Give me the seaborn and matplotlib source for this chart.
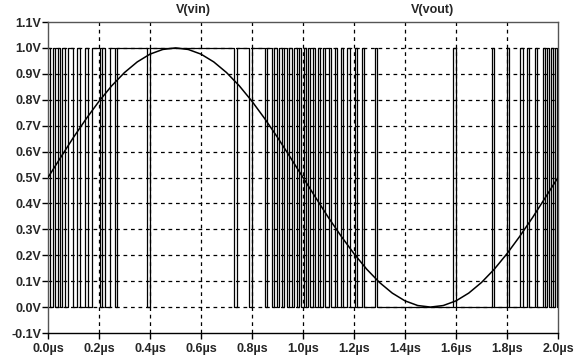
import numpy as np
import pandas as pd
import matplotlib
matplotlib.use("Agg")
import matplotlib.pyplot as plt
import seaborn as sns

vin_t = [round(0.05 * i, 2) for i in range(41)]
vin_v = [0.500, 0.578, 0.655, 0.727, 0.794, 0.854, 0.905, 0.946, 0.976, 0.994,
         1.000, 0.994, 0.976, 0.946, 0.905, 0.854, 0.794, 0.727, 0.655, 0.578,
         0.500, 0.422, 0.345, 0.273, 0.206, 0.146, 0.095, 0.054, 0.024, 0.006,
         0.000, 0.006, 0.024, 0.054, 0.095, 0.146, 0.206, 0.273, 0.345, 0.422,
         0.500]

# V(vout): transition times (us); level starts high at t=0 and toggles at each
vout_edges = [0.008, 0.020, 0.027, 0.039, 0.047, 0.055, 0.067, 0.078, 0.098, 0.114,
              0.125, 0.145, 0.157, 0.173, 0.204, 0.212, 0.224, 0.243, 0.263, 0.271,
              0.388, 0.400, 0.729, 0.741, 0.788, 0.800, 0.851, 0.859, 0.878, 0.886,
              0.898, 0.906, 0.918, 0.925, 0.937, 0.945, 0.957, 0.965, 0.976, 0.984,
              0.992, 1.004, 1.012, 1.020, 1.027, 1.039, 1.047, 1.059, 1.067, 1.078,
              1.086, 1.102, 1.110, 1.125, 1.133, 1.149, 1.157, 1.173, 1.184, 1.204,
              1.212, 1.231, 1.239, 1.282, 1.290, 1.588, 1.600, 1.741, 1.749, 1.800,
              1.808, 1.851, 1.863, 1.878, 1.886, 1.910, 1.918, 1.941, 1.949, 1.957,
              1.965, 1.973, 1.980, 1.988, 1.996]
vout_start_level = 1.0

x_ticks = [0.0, 0.2, 0.4, 0.6, 0.8, 1.0, 1.2, 1.4, 1.6, 1.8, 2.0]
x_labels = ["0.0µs", "0.2µs", "0.4µs", "0.6µs", "0.8µs", "1.0µs",
            "1.2µs", "1.4µs", "1.6µs", "1.8µs", "2.0µs"]
y_ticks = [-0.1, 0.0, 0.1, 0.2, 0.3, 0.4, 0.5, 0.6, 0.7, 0.8, 0.9, 1.0, 1.1]
y_labels = ["-0.1V", "0.0V", "0.1V", "0.2V", "0.3V", "0.4V", "0.5V",
            "0.6V", "0.7V", "0.8V", "0.9V", "1.0V", "1.1V"]
trace_names = ["V(vin)", "V(vout)"]

# build step data
vt = [0.0]
vl = [vout_start_level]
lvl = vout_start_level
for e in vout_edges:
    lvl = 1.0 - lvl
    vt.append(e)
    vl.append(lvl)
vt.append(2.0)
vl.append(lvl)
df_out = pd.DataFrame({"t": vt, "v": vl})
df_in = pd.DataFrame({"t": vin_t, "v": vin_v})

sns.set_theme(style="white")
plt.rcParams["font.family"] = ["Liberation Sans", "DejaVu Sans"]

fig = plt.figure(figsize=(5.76, 3.62), dpi=100)
ax = fig.add_axes([48/576, 1-333/362, 510/576, 311/362])

for xv in x_ticks[1:-1]:
    ax.axvline(xv, color="black", lw=0.9, ls=(0, (3, 3)), zorder=1)
for yv in y_ticks[1:-1]:
    ax.axhline(yv, color="black", lw=0.9, ls=(0, (3, 3)), zorder=1)

sns.lineplot(data=df_out, x="t", y="v", ax=ax, color="black", lw=0.9,
             drawstyle="steps-post", estimator=None, sort=False, zorder=2)
sns.lineplot(data=df_in, x="t", y="v", ax=ax, color="black", lw=1.1,
             estimator=None, sort=False, zorder=3)

ax.set_xlim(0, 2.0)
ax.set_ylim(-0.1, 1.1)
ax.set_xticks(x_ticks)
ax.set_xticklabels(x_labels, fontsize=9, fontweight="bold")
ax.set_yticks(y_ticks)
ax.set_yticklabels(y_labels, fontsize=9, fontweight="bold")
ax.set_xlabel("")
ax.set_ylabel("")
ax.tick_params(axis="both", direction="out", length=4, width=1, color="black",
               bottom=True, left=True)
ax.tick_params(axis="x", pad=3)
ax.tick_params(axis="y", pad=1)
for s in ax.spines.values():
    s.set_color("#555555")
    s.set_linewidth(1.0)
ax.spines["bottom"].set_color("black")

ax.text(193/576, 1-10/362, trace_names[0], transform=fig.transFigure,
        ha="center", va="center", fontsize=9, fontweight="bold")
ax.text(433/576, 1-10/362, trace_names[1], transform=fig.transFigure,
        ha="center", va="center", fontsize=9, fontweight="bold")

fig.savefig("out.png", dpi=100, facecolor="white")
